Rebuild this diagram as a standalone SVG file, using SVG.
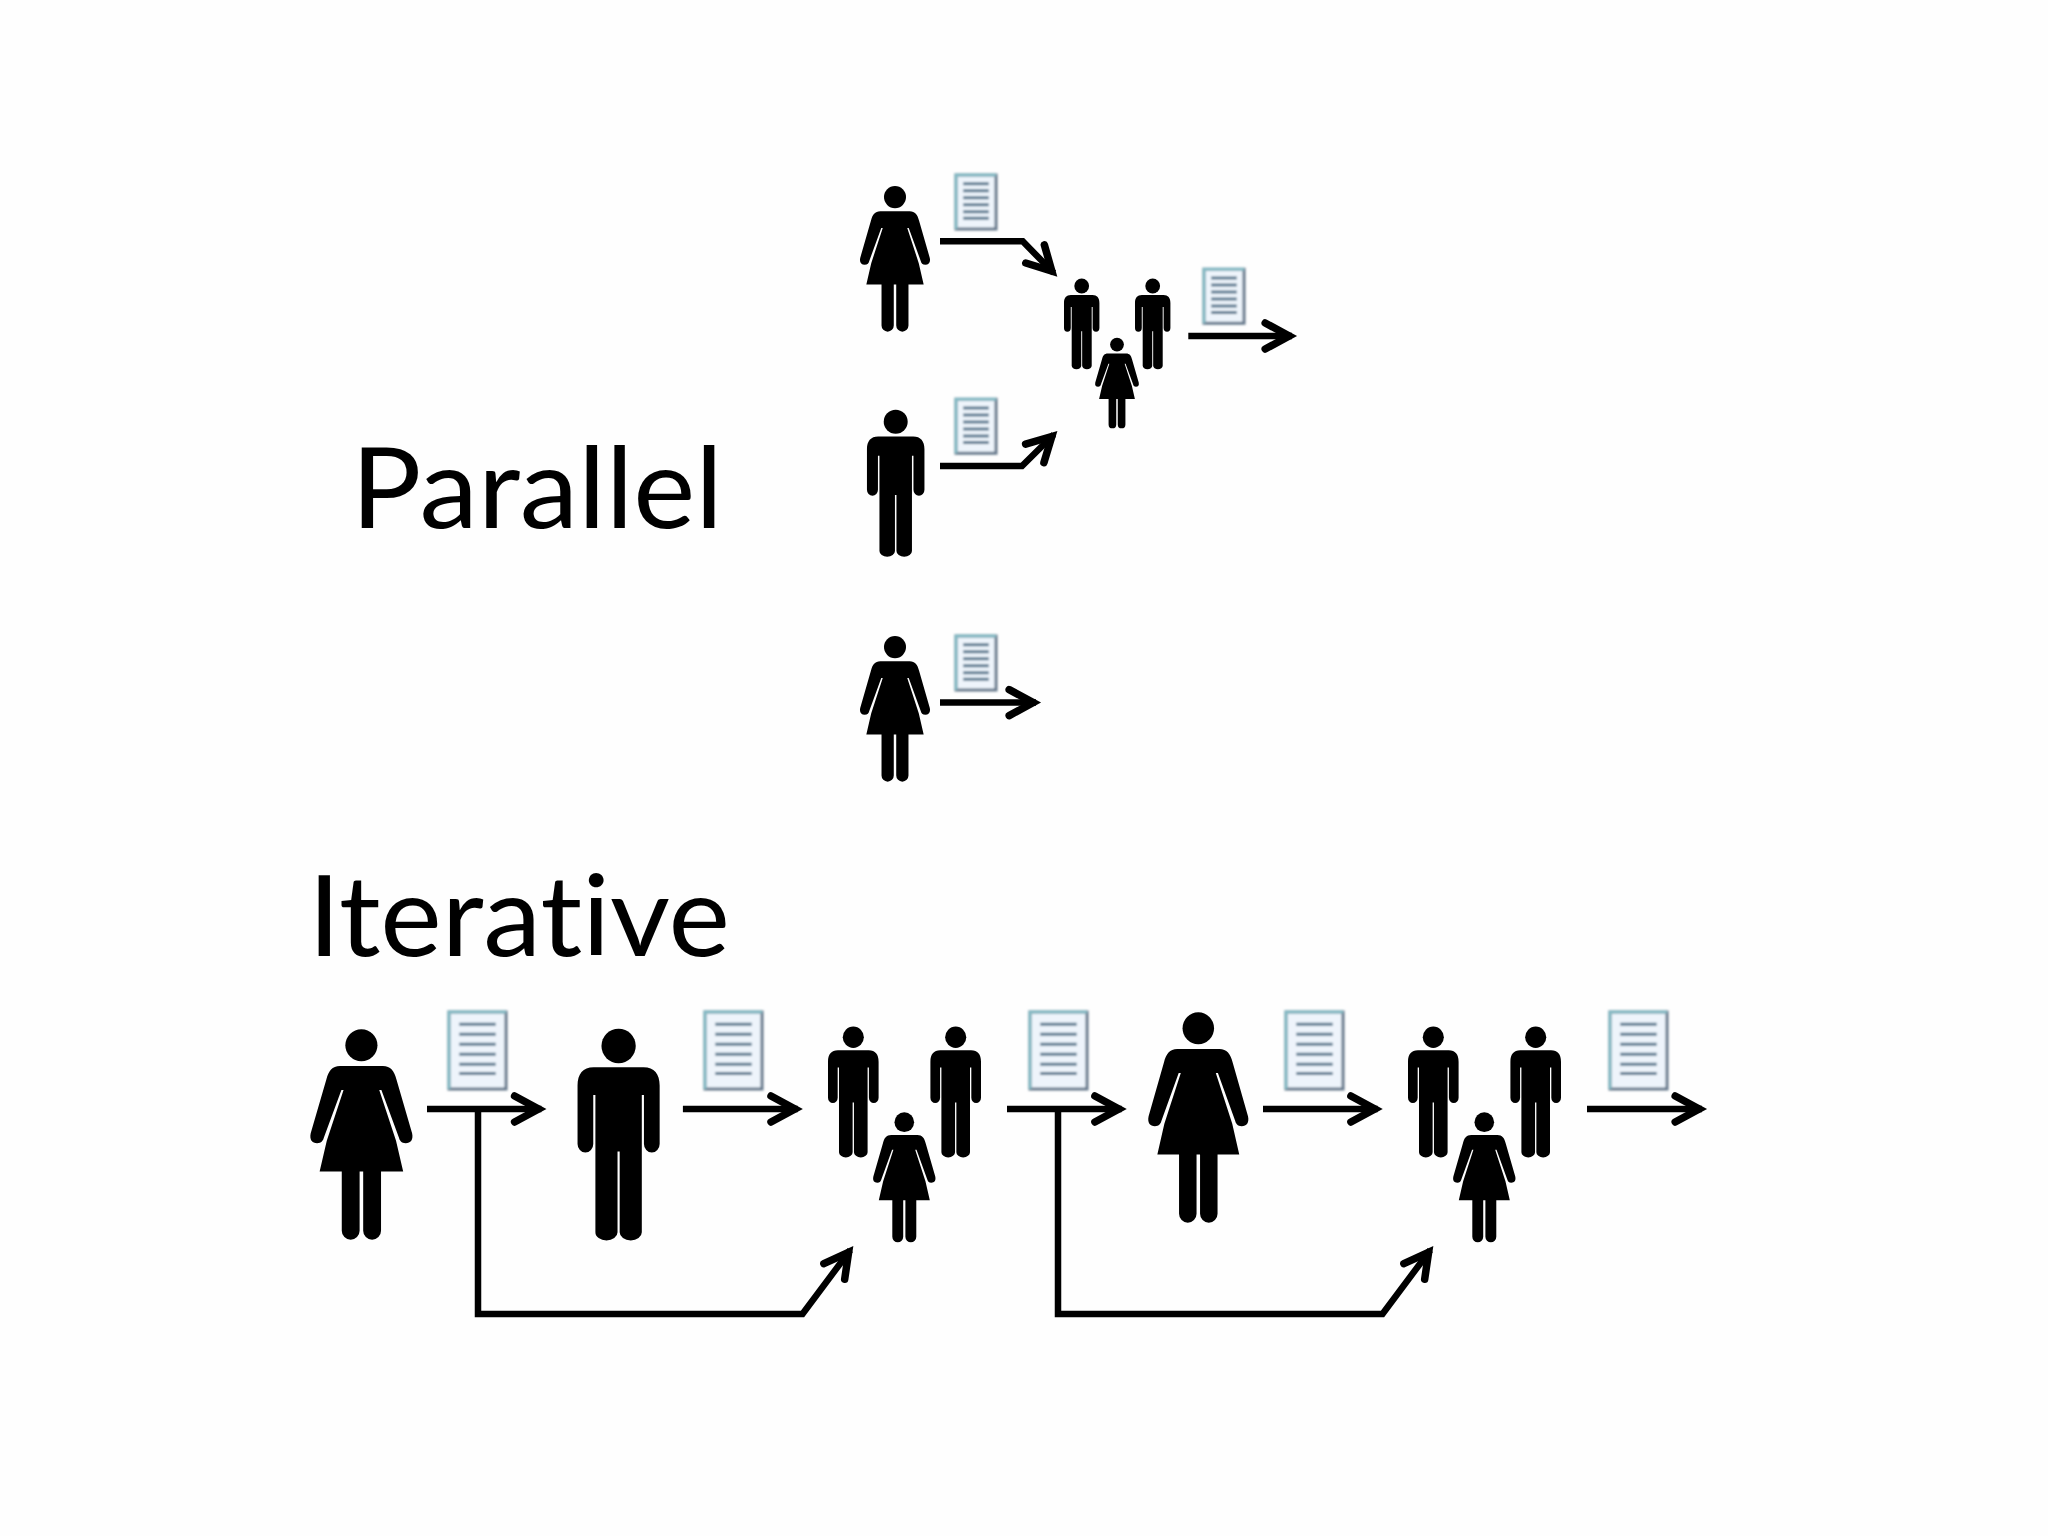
<svg xmlns="http://www.w3.org/2000/svg" width="2048" height="1536" viewBox="0 0 2048 1536">
<style>
.lbl{font-family:"Lato","Liberation Sans",sans-serif;font-size:112px;fill:#000;font-variant-ligatures:none}
.c{fill:none;stroke:#000;stroke-width:6.5}
.a{marker-end:url(#head)}
.soft{filter:url(#soft)}
.docbox{fill:#eef4fb;stroke:#66798c;stroke-width:3;vector-effect:non-scaling-stroke}
.docedge{fill:none;stroke:#86bcc6;stroke-width:3;vector-effect:non-scaling-stroke}
.docline{fill:none;stroke:#5a788f;stroke-width:3;vector-effect:non-scaling-stroke}
</style>
<defs>
<marker id="head" markerUnits="userSpaceOnUse" markerWidth="44" markerHeight="44" refX="38.8" refY="22" orient="auto" overflow="visible">
<path d="M12,9 L36,22 L12,35" fill="none" stroke="#000" stroke-width="7.5" stroke-linecap="round" stroke-linejoin="miter"/>
</marker>
<g id="woman">
<ellipse cx="0" cy="48" rx="45" ry="48"/>
<path d="M-60,110 H60 C82,110 92,125 98,150 L142,312 C146,332 138,342 124,342 C112,342 107,334 105,325 L56,182 H50 L97,335 L117,427 H55 V605 A25,27 0 0 1 5,605 V427 H-5 V605 A25,27 0 0 1 -55,605 V427 H-117 L-97,335 L-50,182 H-56 L-105,325 C-107,334 -112,342 -124,342 C-138,342 -146,332 -142,312 L-98,150 C-92,125 -82,110 -60,110 Z"/>
</g>
<g id="man">
<ellipse cx="0" cy="51" rx="48" ry="52"/>
<path d="M-70,115 H70 C100,115 115,135 115,170 V345 A22,26 0 0 1 71,345 V198 H65 V610 A31,25 0 0 1 3,610 V368 H-3 V610 A31,25 0 0 1 -65,610 V198 H-71 V345 A22,26 0 0 1 -115,345 V170 C-115,135 -100,115 -70,115 Z"/>
</g>
<filter id="soft" x="-20%" y="-20%" width="140%" height="140%"><feGaussianBlur stdDeviation="0.8"/></filter>
<g id="doc">
<rect class="docbox" x="0" y="0" width="1" height="1"/>
<path class="docedge" d="M0,1V0H1"/>
<path class="docline" d="M.18,.16H.82M.18,.29H.82M.18,.42H.82M.18,.55H.82M.18,.68H.82M.18,.80H.82"/>
</g>
</defs>
<rect width="2048" height="1536" fill="#fefefe"/>
<g id="label-parallel"><text class="lbl" x="351" y="528" textLength="372" lengthAdjust="spacingAndGlyphs">Parallel</text></g>
<g id="label-iterative"><text class="lbl" x="308" y="956" textLength="422" lengthAdjust="spacingAndGlyphs">Iterative</text></g>

<g id="parallel-woman-1"><use href="#woman" transform="translate(895 186) scale(.245 .2305)"/><g class="soft"><use href="#doc" transform="translate(956 175) scale(40 54)"/></g></g>
<g id="parallel-man"><use href="#man" transform="translate(895.7 410) scale(.25 .231)"/><g class="soft"><use href="#doc" transform="translate(956 399.3) scale(40 54)"/></g></g>
<g id="parallel-woman-2"><use href="#woman" transform="translate(895 636) scale(.245 .2305)"/><g class="soft"><use href="#doc" transform="translate(956 636) scale(40 54)"/></g></g>
<g id="parallel-team">
<use href="#man" transform="translate(1081.7 278.7) scale(.154 .1427)"/>
<use href="#man" transform="translate(1152.7 278.7) scale(.154 .1427)"/>
<use href="#woman" transform="translate(1117 337.7) scale(.153 .1434)"/>
<g class="soft"><use href="#doc" transform="translate(1204 269.3) scale(40 54)"/></g>
</g>

<g id="iter-woman-1"><use href="#woman" transform="translate(361.4 1029.3) scale(.357 .333)"/><g class="soft"><use href="#doc" transform="translate(449 1012) scale(57 77)"/></g></g>
<g id="iter-man"><use href="#man" transform="translate(618.6 1029) scale(.357 .333)"/><g class="soft"><use href="#doc" transform="translate(705 1012) scale(57 77)"/></g></g>
<g id="iter-team-1">
<use href="#man" transform="translate(853.3 1026.7) scale(.22 .2058)"/>
<use href="#man" transform="translate(955.7 1026.7) scale(.22 .2058)"/>
<use href="#woman" transform="translate(904.3 1112.3) scale(.218 .2057)"/>
<g class="soft"><use href="#doc" transform="translate(1030 1012) scale(57 77)"/></g>
</g>
<g id="iter-woman-2"><use href="#woman" transform="translate(1198.3 1012.3) scale(.35 .333)"/><g class="soft"><use href="#doc" transform="translate(1286 1012) scale(57 77)"/></g></g>
<g id="iter-team-2">
<use href="#man" transform="translate(1433.3 1026.7) scale(.22 .2058)"/>
<use href="#man" transform="translate(1535.7 1026.7) scale(.22 .2058)"/>
<use href="#woman" transform="translate(1484.3 1112.3) scale(.218 .2057)"/>
<g class="soft"><use href="#doc" transform="translate(1610 1012) scale(57 77)"/></g>
</g>

<g id="connectors">
<path class="c a" d="M940,241.3H1022.7L1053.8,273.1"/>
<path class="c a" d="M940,466H1022L1053.8,434.5"/>
<path class="c a" d="M940,702.6H1036"/>
<path class="c a" d="M1188.3,336H1292"/>
<path class="c a" d="M427,1109H541.4"/>
<path class="c a" d="M682.9,1109H797.8"/>
<path class="c a" d="M1007,1109H1121.7"/>
<path class="c a" d="M1263,1109H1377.7"/>
<path class="c a" d="M1587,1109H1702"/>
<path class="c a" d="M478,1109V1314H802.5L850.3,1250"/>
<path class="c a" d="M1058,1109V1314H1382.5L1430.3,1250"/>
</g>
</svg>
